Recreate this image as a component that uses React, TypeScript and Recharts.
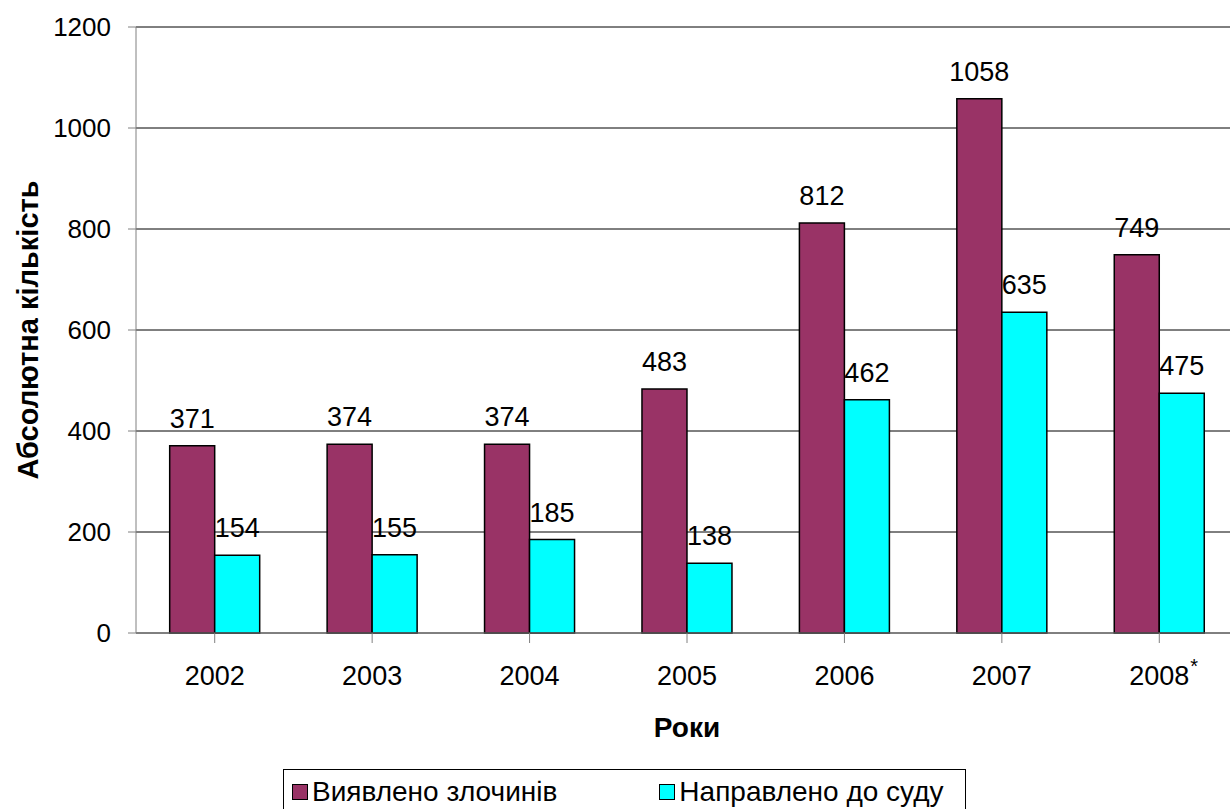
import React from "react"
import {
  BarChart,
  Bar,
  XAxis,
  YAxis,
  CartesianGrid,
  Legend,
  LabelList,
} from "recharts"

const years = ["2002", "2003", "2004", "2005", "2006", "2007", "2008*"]
const detected = [371, 374, 374, 483, 812, 1058, 749]
const sentToCourt = [154, 155, 185, 138, 462, 635, 475]
const yTicks = [0, 200, 400, 600, 800, 1000, 1200]

const data = years.map((year, i) => ({
  year,
  detected: detected[i],
  sentToCourt: sentToCourt[i],
}))

const FONT = "'Liberation Sans', Arial, sans-serif"

function YearTick({ x, y, payload }: any) {
  const raw: string = payload.value
  const star = raw.endsWith("*")
  const label = star ? raw.slice(0, -1) : raw
  return (
    <g>
      <text x={x} y={y} dy={40} textAnchor="middle" fontSize={27} fontFamily={FONT} fill="#000">
        {label}
      </text>
      {star && (
        <text x={x + 31} y={y} dy={28} textAnchor="start" fontSize={20} fontFamily={FONT} fill="#000">
          *
        </text>
      )}
    </g>
  )
}

function LegendBox({ payload }: any) {
  return (
    <div
      style={{
        border: "1px solid #000",
        height: 60,
        boxSizing: "border-box",
        display: "flex",
        alignItems: "flex-start",
        paddingTop: 7,
        fontFamily: FONT,
        fontSize: 28,
        background: "#fff",
      }}
    >
      {(payload || []).map((p: any, i: number) => (
        <div
          key={i}
          style={{
            display: "flex",
            alignItems: "center",
            marginLeft: i === 0 ? 8 : 102,
          }}
        >
          <span
            style={{
              width: 14,
              height: 14,
              background: p.color,
              border: "1.5px solid #000",
              marginRight: 4,
              display: "inline-block",
            }}
          />
          <span style={{ lineHeight: "30px" }}>{p.value}</span>
        </div>
      ))}
    </div>
  )
}

export default function App() {
  return (
    <div
      style={{
        position: "absolute",
        left: 0,
        top: 0,
        width: 1230,
        height: 809,
        overflow: "hidden",
        background: "#fff",
      }}
    >
      <BarChart
        width={1242}
        height={809}
        data={data}
        margin={{ top: 27, right: 4, bottom: 0, left: 0 }}
        barCategoryGap="21.4%"
        barGap={0}
      >
        <CartesianGrid vertical={false} stroke="#000" strokeWidth={1} />
        <XAxis
          dataKey="year"
          height={176}
          stroke="#808080"
          tickSize={10}
          tick={<YearTick />}
          interval={0}
          label={({ viewBox }: any) => (
            <text
              x={viewBox.x + viewBox.width / 2}
              y={737}
              textAnchor="middle"
              fontSize={28}
              fontWeight="bold"
              fontFamily={FONT}
              fill="#000"
            >
              Роки
            </text>
          )}
        />
        <YAxis
          width={136}
          domain={[0, 1200]}
          ticks={yTicks}
          stroke="#808080"
          tickSize={8}
          tickMargin={17}
          tick={{ fill: "#000", fontSize: 26, fontFamily: FONT }}
          label={({ viewBox }: any) => {
            const cy = viewBox.y + viewBox.height / 2
            return (
              <text
                x={28}
                y={cy}
                transform={`rotate(-90, 28, ${cy})`}
                textAnchor="middle"
                dominantBaseline="central"
                fontSize={29}
                fontWeight="bold"
                fontFamily={FONT}
                fill="#000"
              >
                Абсолютна кількість
              </text>
            )
          }}
        />
        <Legend
          verticalAlign="middle"
          align="center"
          content={<LegendBox />}
          wrapperStyle={{ left: 283, top: 769, width: 683, height: 60 }}
        />
        <Bar
          dataKey="detected"
          name="Виявлено злочинів"
          fill="#993366"
          stroke="#000"
          strokeWidth={1.5}
          isAnimationActive={false}
        >
          <LabelList dataKey="detected" position="top" offset={18} fill="#000" fontSize={27} fontFamily={FONT} />
        </Bar>
        <Bar
          dataKey="sentToCourt"
          name="Направлено до суду"
          fill="#00FFFF"
          stroke="#000"
          strokeWidth={1.5}
          isAnimationActive={false}
        >
          <LabelList dataKey="sentToCourt" position="top" offset={18} fill="#000" fontSize={27} fontFamily={FONT} />
        </Bar>
      </BarChart>
    </div>
  )
}
